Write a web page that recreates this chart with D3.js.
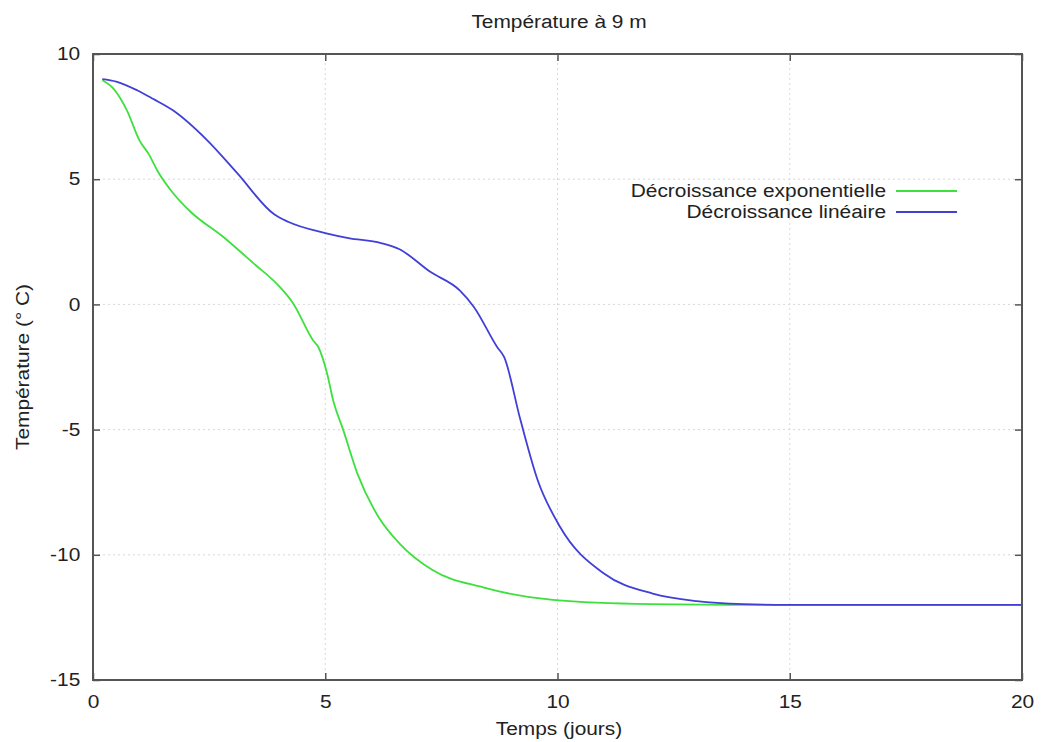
<!DOCTYPE html>
<html>
<head>
<meta charset="utf-8">
<script src="https://cdn.jsdelivr.net/npm/d3@7"></script>
<style>
  body { margin: 0; background: #fff; }
  text { font-family: "Liberation Sans", Arial, sans-serif; fill: #222; }
</style>
</head>
<body>
<svg id="svg1" width="1042" height="742"></svg>
<script>
// temps (jours) et température (°C)
var tempsExpo = [0.2, 0.45, 0.73, 1.0, 1.2, 1.4, 1.7, 2.1, 2.8, 3.45, 4.03, 4.31, 4.74, 4.85, 5.04, 5.17, 5.39, 5.69, 6.15, 6.6, 7.3, 8.4, 9.9, 12, 14, 20];
var tempExpo  = [8.95, 8.6, 7.75, 6.55, 6.0, 5.3, 4.5, 3.7, 2.7, 1.65, 0.68, 0.04, -1.44, -1.7, -2.76, -3.83, -5.03, -6.75, -8.5, -9.55, -10.6, -11.3, -11.8, -11.97, -12, -12];

var tempsLin = [0.2, 0.5, 0.95, 1.3, 1.72, 2.46, 3.1, 3.9, 4.2, 5.0, 5.5, 6.2, 6.6, 7.26, 7.9, 8.2, 8.7, 8.85, 9.2, 9.57, 10.06, 11.0, 12.05, 13, 14, 15, 20];
var tempLin  = [9.0, 8.9, 8.55, 8.2, 7.75, 6.55, 5.25, 3.6, 3.3, 2.85, 2.65, 2.45, 2.2, 1.3, 0.55, -0.1, -1.7, -2.1, -4.6, -7.0, -8.9, -10.75, -11.55, -11.85, -11.97, -12, -12];

var series = ["Décroissance exponentielle", "Décroissance linéaire"];
var couleurs = ["#3ee03e", "#4040d8"];
var ticksX = [0, 5, 10, 15, 20];
var ticksY = [-15, -10, -5, 0, 5, 10];

var marge = {haut: 54, droite: 20, bas: 62, gauche: 93};
var largeur = 1042, hauteur = 742;
var etire = "scale(1.16,1)"; // le texte de la figure est étiré en largeur

var svg = d3.select("#svg1");

var x = d3.scaleLinear().domain([0, 20]).range([marge.gauche, largeur - marge.droite]);
var y = d3.scaleLinear().domain([-15, 10]).range([hauteur - marge.bas, marge.haut]);

// grille pointillée
svg.append("g").selectAll("line").data(ticksX.slice(1, -1)).enter().append("line")
    .attr("x1", d => x(d)).attr("x2", d => x(d))
    .attr("y1", y(-15)).attr("y2", y(10))
    .style("stroke", "#d8d8d8").style("stroke-dasharray", "2,3");
svg.append("g").selectAll("line").data(ticksY.slice(1, -1)).enter().append("line")
    .attr("y1", d => y(d)).attr("y2", d => y(d))
    .attr("x1", x(0)).attr("x2", x(20))
    .style("stroke", "#d8d8d8").style("stroke-dasharray", "2,3");

// axes avec graduations intérieures (et en miroir)
var fmt = d => String(d);
svg.append("g").attr("transform", "translate(0," + y(-15) + ")")
    .call(d3.axisBottom(x).tickValues(ticksX).tickSize(-7).tickPadding(15).tickFormat(fmt));
svg.append("g").attr("transform", "translate(0," + y(10) + ")")
    .call(d3.axisTop(x).tickValues(ticksX).tickSize(-7).tickFormat(""));
svg.append("g").attr("transform", "translate(" + x(0) + ",0)")
    .call(d3.axisLeft(y).tickValues(ticksY).tickSize(-7).tickPadding(11).tickFormat(fmt));
svg.append("g").attr("transform", "translate(" + x(20) + ",0)")
    .call(d3.axisRight(y).tickValues(ticksY).tickSize(-7).tickFormat(""));

svg.selectAll(".domain").remove();
svg.selectAll(".tick line").style("stroke", "#555").style("stroke-width", 1.5);
svg.selectAll(".tick text").style("font-size", "18px").style("fill", "#222")
    .style("font-family", "Liberation Sans, Arial, sans-serif")
    .attr("transform", etire);

// cadre
svg.append("rect")
    .attr("x", x(0)).attr("y", y(10))
    .attr("width", x(20) - x(0)).attr("height", y(-15) - y(10))
    .style("fill", "none").style("stroke", "#555").style("stroke-width", 2);

// courbes
var ligne = d3.line().x(d => x(d[0])).y(d => y(d[1])).curve(d3.curveMonotoneX);
var donnees = [
    d3.zip(tempsExpo, tempExpo),
    d3.zip(tempsLin, tempLin)
];
svg.append("g").selectAll("path").data(donnees).enter().append("path")
    .attr("d", ligne)
    .style("fill", "none")
    .style("stroke", (d, i) => couleurs[i])
    .style("stroke-width", 1.8);

// légende
var leg = svg.append("g").selectAll("g").data(series).enter().append("g")
    .attr("transform", (d, i) => "translate(0," + (191 + i * 21) + ")");
leg.append("text").attr("transform", "translate(886,0) " + etire).attr("dy", "0.35em")
    .attr("text-anchor", "end").style("font-size", "18px").text(d => d);
leg.append("line").attr("x1", 896).attr("x2", 957)
    .style("stroke", (d, i) => couleurs[i]).style("stroke-width", 1.8);

// titres
svg.append("text").attr("transform", "translate(559,28) " + etire).attr("text-anchor", "middle")
    .style("font-size", "18px").text("Température à 9 m");
svg.append("text").attr("transform", "translate(559,735) " + etire).attr("text-anchor", "middle")
    .style("font-size", "18px").text("Temps (jours)");
svg.append("text").attr("transform", "translate(29," + ((y(10) + y(-15)) / 2) + ") rotate(-90) " + etire)
    .attr("text-anchor", "middle").style("font-size", "18px").text("Température (° C)");
</script>
</body>
</html>
